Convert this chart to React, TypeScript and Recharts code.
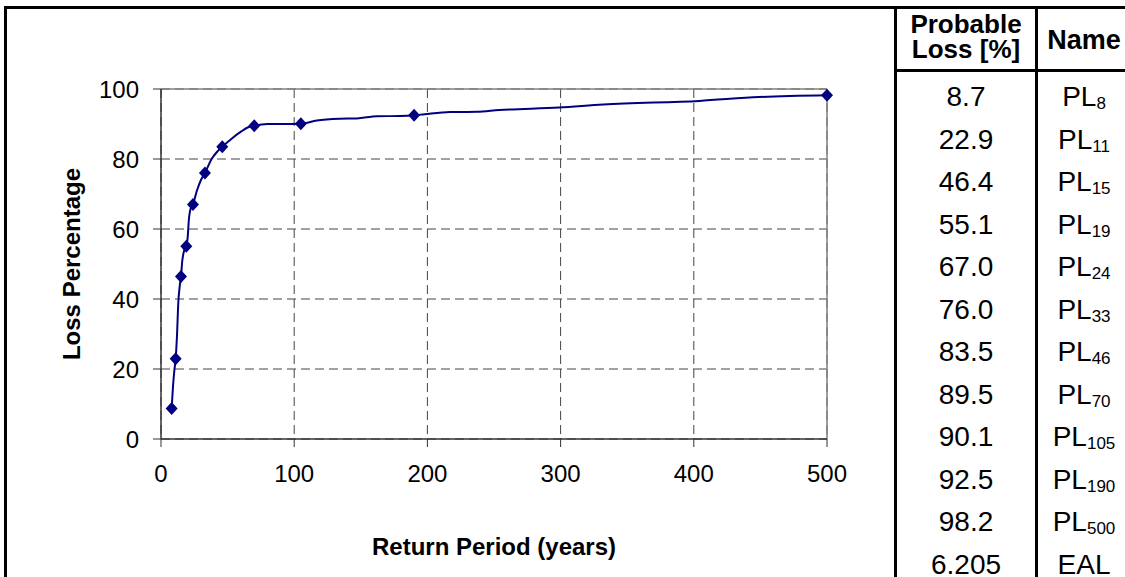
import React from "react"
import {
  CartesianGrid,
  ComposedChart,
  Line,
  ReferenceLine,
  Scatter,
  XAxis,
  YAxis,
} from "recharts"

// marked return periods and their probable loss
const markerYears = [8, 11, 15, 19, 24, 33, 46, 70, 105, 190, 500]
const markerLoss = [8.7, 22.9, 46.4, 55.1, 67.0, 76.0, 83.5, 89.5, 90.1, 92.5, 98.2]

// points the smoothed curve passes through
const curveYears = [
  8, 9, 10, 11, 12, 13, 14, 15, 16, 17, 18, 19, 20, 21, 22, 24, 27, 30, 33, 38, 42, 46, 53,
  60, 65, 70, 80, 90, 105, 117, 134, 147, 162, 179, 190, 198, 217, 237, 254, 299, 332, 404,
  449, 500,
]
const curveLoss = [
  8.7, 15.0, 19.5, 22.9, 29.5, 39.0, 43.5, 46.4, 51.0, 53.3, 54.5, 55.1, 57.5, 63.0, 65.5,
  67.0, 71.0, 74.0, 76.0, 80.0, 82.0, 83.5, 85.8, 87.8, 89.0, 89.5, 90.0, 90.0, 90.1, 91.0,
  91.5, 91.6, 92.2, 92.3, 92.5, 92.8, 93.4, 93.5, 94.0, 94.7, 95.6, 96.6, 97.7, 98.2,
]

const xTicks = [0, 100, 200, 300, 400, 500]
const yTicks = [0, 20, 40, 60, 80, 100]

const tableValues = ["8.7", "22.9", "46.4", "55.1", "67.0", "76.0", "83.5", "89.5", "90.1", "92.5", "98.2", "6.205"]
const tableNames = ["PL", "PL", "PL", "PL", "PL", "PL", "PL", "PL", "PL", "PL", "PL", "EAL"]
const tableSubs = ["8", "11", "15", "19", "24", "33", "46", "70", "105", "190", "500", ""]

const FONT = "'Liberation Sans', Arial, Helvetica, sans-serif"
const NAVY = "#000080"

const markerData = markerYears.map((year, i) => ({ year, loss: markerLoss[i] }))
const curveData = curveYears.map((year, i) => ({ year, loss: curveLoss[i] }))

const Diamond = (props: any) => {
  const { cx, cy } = props
  if (cx == null || cy == null) return null
  return (
    <path
      d={`M${cx},${cy - 6.5} L${cx + 6},${cy} L${cx},${cy + 6.5} L${cx - 6},${cy} Z`}
      fill={NAVY}
    />
  )
}

const YTitle = (props: any) => {
  const vb = props.viewBox || {}
  const cx = vb.x + 18.5
  const cy = vb.y + vb.height / 2
  return (
    <text
      transform={`translate(${cx},${cy}) rotate(-90)`}
      textAnchor="middle"
      fontFamily={FONT}
      fontSize={24}
      fontWeight="bold"
      fill="#000"
    >
      Loss Percentage
    </text>
  )
}

const LossChart = () => (
  <ComposedChart
    width={893}
    height={577}
    margin={{ top: 89, right: 66, bottom: 0, left: 61 }}
  >
    <CartesianGrid stroke="#444" strokeDasharray="9 5" />
    <XAxis
      type="number"
      dataKey="year"
      domain={[0, 500]}
      ticks={xTicks}
      height={138}
      tickSize={8}
      tickMargin={18}
      axisLine={{ stroke: "#333", strokeWidth: 1.5 }}
      tickLine={{ stroke: "#333" }}
      tick={{ fill: "#000", fontSize: 24, fontFamily: FONT }}
      label={{
        value: "Return Period (years)",
        position: "insideBottom",
        offset: 22,
        fill: "#000",
        fontSize: 24,
        fontWeight: "bold",
        fontFamily: FONT,
      }}
    />
    <YAxis
      type="number"
      domain={[0, 100]}
      ticks={yTicks}
      width={100}
      tickSize={8}
      tickMargin={14}
      axisLine={{ stroke: "#333", strokeWidth: 1.5 }}
      tickLine={{ stroke: "#333" }}
      tick={{ fill: "#000", fontSize: 24, fontFamily: FONT }}
      label={<YTitle />}
    />
    <ReferenceLine y={100} stroke="#808080" strokeWidth={1.5} />
    <ReferenceLine x={500} stroke="#808080" strokeWidth={1.5} />
    <Line
      data={curveData}
      dataKey="loss"
      type="monotone"
      stroke={NAVY}
      strokeWidth={2}
      dot={false}
      isAnimationActive={false}
    />
    <Scatter
      data={markerData}
      dataKey="loss"
      fill={NAVY}
      shape={<Diamond />}
      isAnimationActive={false}
    />
  </ComposedChart>
)

const headerText: React.CSSProperties = {
  position: "absolute",
  textAlign: "center",
  fontWeight: "bold",
  whiteSpace: "nowrap",
}

const LossTable = () => (
  <>
    {/* table outline */}
    <div style={{ position: "absolute", left: 894, top: 6, width: 3, height: 600, background: "#000" }} />
    <div style={{ position: "absolute", left: 1035, top: 6, width: 3, height: 600, background: "#000" }} />
    <div style={{ position: "absolute", left: 894, top: 68.5, width: 300, height: 3, background: "#000" }} />
    {/* header */}
    <div style={{ ...headerText, left: 897, top: 11, width: 138, fontSize: 26, lineHeight: "26px" }}>
      Probable
    </div>
    <div style={{ ...headerText, left: 897, top: 36, width: 138, fontSize: 26, lineHeight: "26px" }}>
      Loss [%]
    </div>
    <div style={{ ...headerText, left: 1038, top: 27, width: 92, fontSize: 27, lineHeight: "27px" }}>
      Name
    </div>
    {tableValues.map((v, i) => (
      <React.Fragment key={i}>
        <div
          style={{
            position: "absolute",
            left: 897,
            top: 76 + 42.5 * i,
            width: 138,
            height: 42.5,
            lineHeight: "42.5px",
            textAlign: "center",
            fontSize: 28,
          }}
        >
          {v}
        </div>
        <div
          style={{
            position: "absolute",
            left: 1038,
            top: 76 + 42.5 * i,
            width: 92,
            height: 42.5,
            lineHeight: "42.5px",
            textAlign: "center",
            fontSize: 28,
            whiteSpace: "nowrap",
          }}
        >
          {tableNames[i]}
          {tableSubs[i] && (
            <span style={{ fontSize: 17, position: "relative", top: 3 }}>{tableSubs[i]}</span>
          )}
        </div>
      </React.Fragment>
    ))}
  </>
)

export default function App() {
  return (
    <div
      style={{
        position: "absolute",
        left: 0,
        top: 0,
        width: 1125,
        height: 577,
        overflow: "hidden",
        background: "#fff",
        fontFamily: FONT,
        color: "#000",
      }}
    >
      {/* outer frame */}
      <div
        style={{
          position: "absolute",
          left: 4,
          top: 6,
          width: 1300,
          height: 800,
          border: "3px solid #000",
          boxSizing: "border-box",
        }}
      />
      <div style={{ position: "absolute", left: 0, top: 0 }}>
        <LossChart />
      </div>
      <LossTable />
    </div>
  )
}
